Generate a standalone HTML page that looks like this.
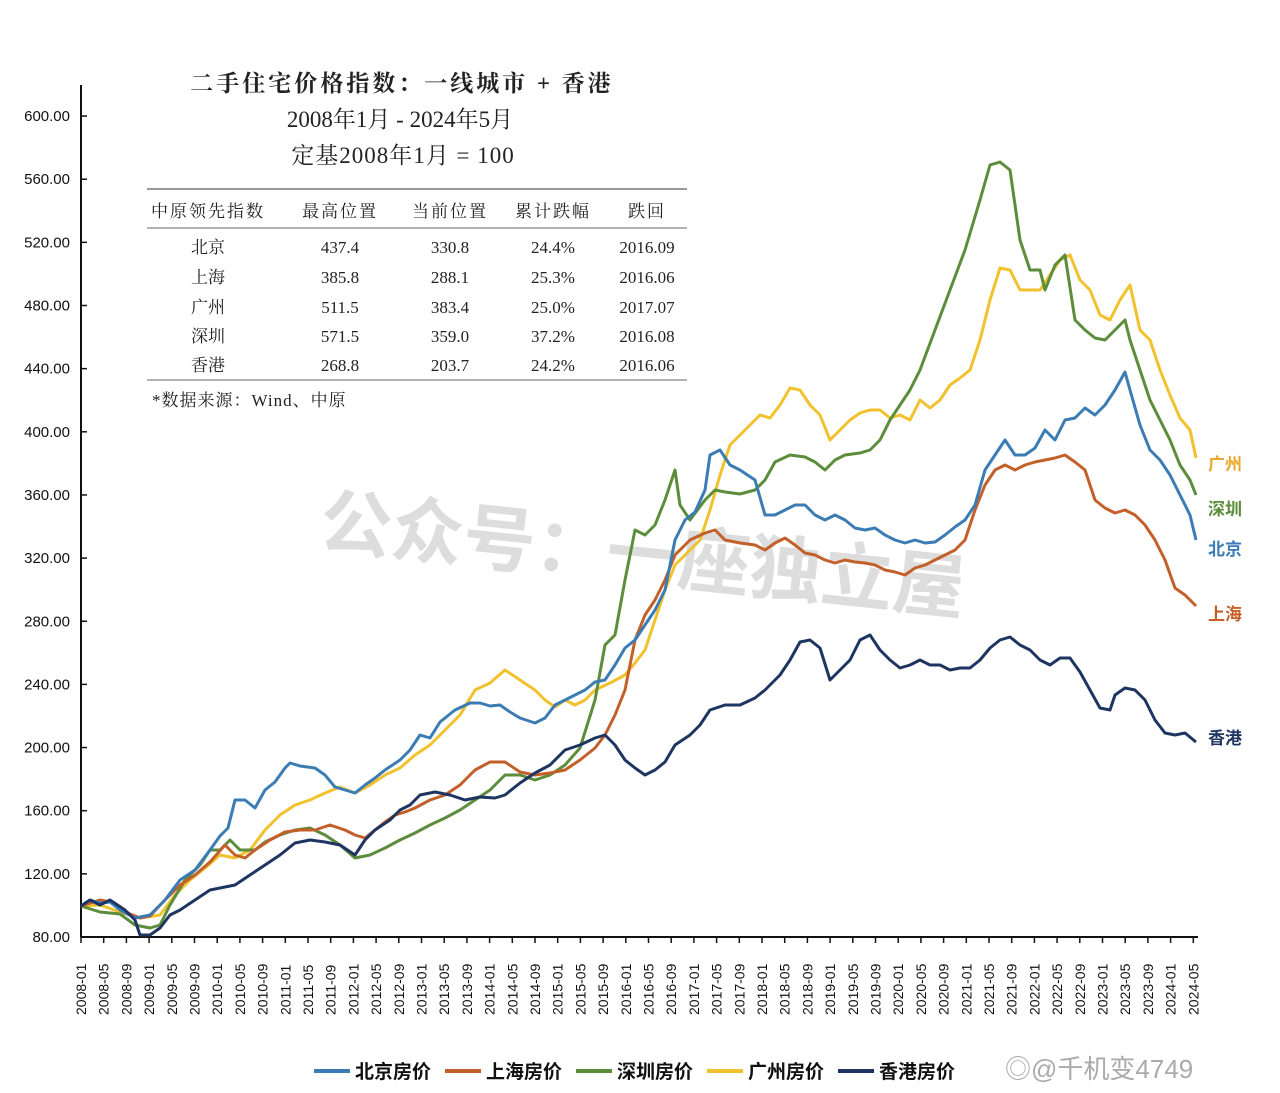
<!DOCTYPE html>
<html><head><meta charset="utf-8"><style>
body{margin:0;background:#fff;width:1280px;height:1093px;overflow:hidden}
svg{display:block}
.s{font-family:"Liberation Serif","Noto Serif CJK SC",serif;fill:#222}
.a{font-family:"Liberation Sans","Noto Sans CJK SC",sans-serif;fill:#111}
</style></head><body>
<svg width="1280" height="1093" viewBox="0 0 1280 1093" xmlns="http://www.w3.org/2000/svg">
<text x="640" y="580" text-anchor="middle" transform="rotate(6 640 580)" class="a" style="font-size:72px;fill:#d0d0d0;opacity:.7;font-weight:bold">公众号：一座独立屋</text>
<line x1="81" y1="85" x2="81" y2="937" stroke="#111" stroke-width="2"/>
<line x1="81" y1="937" x2="1198" y2="937" stroke="#111" stroke-width="2"/>
<g id="yt" class="a" font-size="15" text-anchor="end"></g>
<g id="xt" class="a" font-size="14"></g>
<g id="ticks" stroke="#111" stroke-width="1.5"></g>
<text x="402" y="91" text-anchor="middle" class="s" font-size="23" font-weight="bold" letter-spacing="3">二手住宅价格指数：一线城市 + 香港</text>
<text x="400" y="127" text-anchor="middle" class="s" font-size="23">2008年1月 - 2024年5月</text>
<text x="403" y="163" text-anchor="middle" class="s" font-size="23" letter-spacing="1">定基2008年1月 = 100</text>
<line x1="147" y1="189" x2="687" y2="189" stroke="#999" stroke-width="2"/>
<line x1="147" y1="228" x2="687" y2="228" stroke="#999" stroke-width="1.5"/>
<line x1="147" y1="380" x2="687" y2="380" stroke="#999" stroke-width="1.5"/>
<g class="s" font-size="17" text-anchor="middle">
<g letter-spacing="2"><text x="208" y="217">中原领先指数</text><text x="340" y="217">最高位置</text><text x="450" y="217">当前位置</text><text x="553" y="217">累计跌幅</text><text x="647" y="217">跌回</text></g>
<text x="208" y="253">北京</text><text x="340" y="253">437.4</text><text x="450" y="253">330.8</text><text x="553" y="253">24.4%</text><text x="647" y="253">2016.09</text>
<text x="208" y="283">上海</text><text x="340" y="283">385.8</text><text x="450" y="283">288.1</text><text x="553" y="283">25.3%</text><text x="647" y="283">2016.06</text>
<text x="208" y="313">广州</text><text x="340" y="313">511.5</text><text x="450" y="313">383.4</text><text x="553" y="313">25.0%</text><text x="647" y="313">2017.07</text>
<text x="208" y="342">深圳</text><text x="340" y="342">571.5</text><text x="450" y="342">359.0</text><text x="553" y="342">37.2%</text><text x="647" y="342">2016.08</text>
<text x="208" y="371">香港</text><text x="340" y="371">268.8</text><text x="450" y="371">203.7</text><text x="553" y="371">24.2%</text><text x="647" y="371">2016.06</text>
</g>
<text x="152" y="406" class="s" font-size="17" letter-spacing="1">*数据来源：Wind、中原</text>
<g fill="none" stroke-width="3" stroke-linejoin="round">
<polyline stroke="#f2c12e" points="81,906 100,905 120,912 140,918 160,915 175,895 190,880 205,868 220,855 235,858 250,850 265,830 280,815 295,805 310,800 325,793 340,787 355,793 370,785 385,775 400,768 415,755 430,745 445,730 460,715 475,690 490,683 505,670 520,680 535,690 545,700 555,707 565,700 575,705 585,700 595,690 610,683 625,675 635,663 645,650 655,620 665,590 675,565 690,550 700,540 710,510 720,475 730,445 745,430 760,415 770,418 780,405 790,388 800,390 810,405 820,415 830,440 840,430 850,420 860,413 870,410 880,410 890,418 900,415 910,420 920,400 930,408 940,400 950,385 960,378 970,370 980,340 990,300 1000,268 1010,270 1020,290 1030,290 1040,290 1050,275 1060,260 1070,255 1080,280 1090,290 1100,315 1110,320 1120,300 1130,285 1140,330 1150,340 1160,370 1170,395 1180,418 1190,430 1196,458"/>
<polyline stroke="#5b8d3b" points="81,906 100,912 120,914 135,925 150,928 160,925 170,905 185,880 200,865 210,850 220,850 230,840 240,850 255,850 265,842 280,835 295,830 310,828 325,835 340,845 355,858 370,855 385,848 400,840 415,833 430,825 445,818 460,810 475,800 490,790 505,775 520,775 535,780 550,775 565,765 580,748 595,700 605,645 615,635 625,580 635,530 645,535 655,525 665,500 675,470 680,505 690,520 705,500 715,490 725,492 740,494 755,490 765,480 775,462 790,455 805,457 815,462 825,470 835,460 845,455 860,453 870,450 880,440 890,420 900,405 910,390 920,370 935,330 950,290 965,250 980,200 990,165 1000,162 1010,170 1020,240 1030,270 1040,270 1045,290 1055,265 1065,255 1075,320 1085,330 1095,338 1105,340 1115,330 1125,320 1130,340 1140,370 1150,400 1160,420 1170,440 1180,465 1190,480 1196,495"/>
<polyline stroke="#c3602a" points="81,906 100,900 110,902 125,912 140,918 150,916 165,900 180,885 195,875 210,862 225,845 235,855 245,858 255,850 270,840 285,832 300,830 315,830 330,825 345,830 355,835 365,838 375,830 385,822 395,815 405,812 415,808 430,800 445,795 460,785 475,770 490,762 505,762 520,772 535,775 550,773 565,770 580,760 595,748 605,735 615,715 625,690 635,640 645,615 655,600 665,580 675,555 690,540 705,533 715,530 725,540 740,543 755,545 765,550 775,543 785,538 795,545 805,553 815,555 825,560 835,563 845,560 855,562 865,563 875,565 885,570 895,572 905,575 915,568 925,565 935,560 945,555 955,550 965,540 975,510 985,485 995,470 1005,465 1015,470 1025,465 1035,462 1045,460 1055,458 1065,455 1075,462 1085,470 1095,500 1105,508 1115,513 1125,510 1135,515 1145,525 1155,540 1165,560 1175,588 1185,595 1196,606"/>
<polyline stroke="#3b7cb5" points="81,906 90,900 100,903 110,902 120,910 135,918 150,915 165,900 180,880 195,870 210,850 220,836 228,828 235,800 245,800 255,808 265,790 275,782 285,768 290,763 300,766 315,768 325,775 335,787 345,790 355,793 365,785 375,778 385,770 400,760 410,750 420,735 430,738 440,722 455,710 470,703 480,703 490,706 500,705 510,712 520,718 535,723 545,718 555,705 565,700 575,695 585,690 595,682 605,680 615,665 625,648 635,640 645,625 655,610 665,590 675,540 685,520 695,512 705,490 710,455 720,450 730,465 740,470 755,480 765,515 775,515 785,510 795,505 805,505 815,515 825,520 835,515 845,520 855,528 865,530 875,528 885,535 895,540 905,543 915,540 925,543 935,542 945,535 955,527 965,520 975,505 985,470 995,455 1005,440 1015,455 1025,455 1035,448 1045,430 1055,440 1065,420 1075,418 1085,408 1095,415 1105,405 1115,390 1125,372 1130,390 1140,425 1150,450 1160,460 1170,475 1180,495 1190,515 1196,540"/>
<polyline stroke="#1f3561" points="81,906 90,900 100,905 110,900 125,910 135,920 140,935 150,935 160,928 170,915 180,910 195,900 210,890 220,888 235,885 250,875 265,865 280,855 295,843 310,840 325,842 340,845 355,855 365,840 375,830 390,820 400,810 410,805 420,795 435,792 450,795 465,800 480,797 495,798 505,795 520,783 535,773 550,765 565,750 580,745 595,738 605,735 615,745 625,760 635,768 645,775 655,770 665,762 675,745 690,735 700,725 710,710 725,705 740,705 755,698 765,690 780,675 790,660 800,642 810,640 820,648 830,680 840,670 850,660 860,640 870,635 880,650 890,660 900,668 910,665 920,660 930,665 940,665 950,670 960,668 970,668 980,660 990,648 1000,640 1010,637 1020,645 1030,650 1040,660 1050,665 1060,658 1070,658 1080,672 1090,690 1100,708 1110,710 1115,695 1125,688 1135,690 1145,700 1155,720 1165,733 1175,735 1185,733 1196,742"/>
</g>
<g class="a" font-size="17" font-weight="bold">
<text x="1208" y="470" fill="#e8a92a">广州</text>
<text x="1208" y="515" fill="#5b8d3b">深圳</text>
<text x="1208" y="555" fill="#3b7cb5">北京</text>
<text x="1208" y="620" fill="#c3602a">上海</text>
<text x="1208" y="744" fill="#1f3561">香港</text>
</g>
<g class="a" font-size="19" font-weight="bold">
<line x1="314" y1="1071" x2="350" y2="1071" stroke="#3b7cb5" stroke-width="4"/><text x="355" y="1078">北京房价</text>
<line x1="445" y1="1071" x2="481" y2="1071" stroke="#c3602a" stroke-width="4"/><text x="486" y="1078">上海房价</text>
<line x1="576" y1="1071" x2="612" y2="1071" stroke="#5b8d3b" stroke-width="4"/><text x="617" y="1078">深圳房价</text>
<line x1="707" y1="1071" x2="743" y2="1071" stroke="#f2c12e" stroke-width="4"/><text x="748" y="1078">广州房价</text>
<line x1="838" y1="1071" x2="874" y2="1071" stroke="#1f3561" stroke-width="4"/><text x="879" y="1078">香港房价</text>
</g>
<text x="1005" y="1078" class="a" font-size="26" style="fill:#aaa">◎@千机变4749</text>
</svg>
<script>
var ns="http://www.w3.org/2000/svg",yt=document.getElementById("yt"),xt=document.getElementById("xt"),tk=document.getElementById("ticks");
for(var i=0;i<=13;i++){var v=80+i*40,y=937-i*63.15;var t=document.createElementNS(ns,"text");t.setAttribute("x",70);t.setAttribute("y",y+5);t.textContent=v.toFixed(2);yt.appendChild(t);
var l=document.createElementNS(ns,"line");l.setAttribute("x1",81);l.setAttribute("x2",87);l.setAttribute("y1",y);l.setAttribute("y2",y);tk.appendChild(l);}
for(var k=0;k<50;k++){var m=k*4,yr=2008+Math.floor(m/12),mo=m%12+1,x=81+m*5.675;
var l=document.createElementNS(ns,"line");l.setAttribute("x1",x);l.setAttribute("x2",x);l.setAttribute("y1",937);l.setAttribute("y2",943);tk.appendChild(l);
var t=document.createElementNS(ns,"text");t.setAttribute("transform","translate("+(x+5)+",1015) rotate(-90)");t.textContent=yr+"-"+(mo<10?"0":"")+mo;xt.appendChild(t);}
</script>
</body></html>
